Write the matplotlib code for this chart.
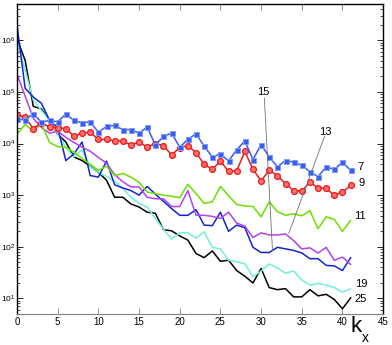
import numpy as np
import matplotlib
matplotlib.use("Agg")
import matplotlib.pyplot as plt

plt.rcParams['font.family'] = ['Liberation Sans', 'DejaVu Sans']
plt.rcParams['mathtext.fontset'] = 'custom'
plt.rcParams['mathtext.rm'] = 'Liberation Sans'
plt.rcParams['mathtext.default'] = 'regular'

# kx = 0..41, values stored as log10 of amplitude
kx = np.arange(42)

log_k7 = [4.47, 4.46, 4.58, 4.41, 4.45, 4.42, 4.57, 4.45, 4.40, 4.42,
          4.22, 4.33, 4.35, 4.27, 4.27, 4.20, 4.32, 3.97, 4.14, 4.20,
          3.93, 4.08, 4.19, 3.95, 3.74, 3.80, 3.66, 3.88, 4.05, 3.69,
          3.98, 3.74, 3.55, 3.67, 3.64, 3.58, 3.45, 3.36, 3.55, 3.50,
          3.64, 3.48]
log_k9 = [4.55, 4.51, 4.29, 4.40, 4.32, 4.31, 4.29, 4.14, 4.20, 4.22,
          4.08, 4.08, 4.05, 4.05, 3.97, 4.03, 3.93, 4.00, 3.96, 3.78,
          3.92, 3.96, 3.82, 3.60, 3.50, 3.66, 3.46, 3.47, 3.85, 3.50,
          3.28, 3.48, 3.38, 3.22, 3.09, 3.08, 3.25, 3.14, 3.13, 3.00,
          3.06, 3.19]
log_k11 = [4.18, 4.37, 4.24, 4.39, 4.02, 3.94, 3.93, 3.83, 3.71, 3.60,
           3.48, 3.56, 3.38, 3.42, 3.35, 3.25, 3.06, 3.03, 3.00, 2.98,
           2.95, 3.21, 3.03, 2.84, 2.87, 3.17, 2.99, 2.82, 2.79, 2.78,
           2.58, 2.87, 2.68, 2.61, 2.64, 2.60, 2.70, 2.35, 2.58, 2.53,
           2.30, 2.51]
log_k13 = [5.34, 4.92, 4.49, 4.31, 4.20, 4.24, 4.12, 4.02, 3.93, 3.85,
           3.73, 3.62, 3.40, 3.26, 3.16, 3.16, 2.96, 2.93, 2.93, 2.78,
           2.78, 3.09, 2.61, 2.61, 2.59, 2.55, 2.67, 2.46, 2.40, 2.18,
           2.27, 2.23, 2.23, 2.25, 2.12, 1.96, 1.98, 1.88, 1.99, 1.74,
           1.80, 1.66]
log_k15 = [6.29, 5.07, 4.90, 4.78, 4.45, 4.31, 3.67, 3.80, 4.03, 3.38,
           3.35, 3.66, 3.20, 3.14, 3.09, 3.00, 3.17, 3.02, 2.88, 2.74,
           2.61, 2.61, 2.72, 2.42, 2.41, 2.67, 2.30, 2.42, 2.37, 1.99,
           1.89, 1.89, 1.99, 1.96, 1.93, 1.88, 1.77, 1.77, 1.64, 1.63,
           1.54, 1.79]
log_k19 = [5.97, 5.42, 4.84, 4.64, 4.45, 4.19, 3.93, 3.74, 3.88, 3.55,
           3.44, 3.36, 3.27, 3.13, 2.96, 2.84, 2.77, 2.55, 2.34, 2.15,
           2.27, 2.27, 2.17, 2.29, 1.99, 1.96, 1.74, 1.71, 1.67, 1.42,
           1.53, 1.67, 1.59, 1.49, 1.53, 1.36, 1.26, 1.29, 1.26, 1.21,
           1.12, 1.19]
log_k25 = [6.03, 5.61, 4.72, 4.67, 4.45, 4.18, 4.03, 3.74, 3.67, 3.56,
           3.44, 3.29, 2.96, 2.96, 2.83, 2.77, 2.67, 2.65, 2.33, 2.31,
           2.21, 2.13, 1.87, 1.79, 1.92, 1.72, 1.74, 1.54, 1.43, 1.30,
           1.58, 1.21, 1.17, 1.19, 1.03, 1.03, 1.17, 1.05, 1.08, 0.98,
           0.80, 1.01]

labels = ['7', '9', '11', '13', '15', '19', '25']
label_pos = [(42.2, 3.54), (42.3, 3.23), (42.1, 2.59), (37.9, 4.22),
             (30.3, 4.99), (42.3, 1.27), (42.2, 0.98)]

y_ticks = [1e1, 1e2, 1e3, 1e4, 1e5, 1e6]
y_ticklabels = ['$10^{%d}$' % n for n in range(1, 7)]

fig = plt.figure(figsize=(3.92, 3.45), dpi=100)
ax = fig.add_axes([0.0434, 0.0899, 0.934, 0.898])

lw = 1.1
ax.plot(kx, 10**np.array(log_k25), color='black', lw=lw)
ax.plot(kx, 10**np.array(log_k19), color='#6ff2d8', lw=lw)
ax.plot(kx, 10**np.array(log_k15), color='#1424d4', lw=lw)
ax.plot(kx, 10**np.array(log_k13), color='#b242f2', lw=lw)
ax.plot(kx, 10**np.array(log_k11), color='#6ce000', lw=lw)
ax.plot(kx, 10**np.array(log_k9), color='#ee1a1a', lw=lw, marker='o', ms=4.2,
        mfc='#ff7070', mec='#ee1a1a', mew=0.9)
ax.plot(kx, 10**np.array(log_k7), color='#3a5cf0', lw=lw, marker='s', ms=3.6,
        mfc='#3a5cf0', mec='#7f9bff', mew=0.7)

# leader lines for labels 15 and 13
ax.plot([30.4, 31.4], [10**4.88, 10**1.93], color='#707070', lw=0.6)
ax.plot([37.8, 33.4], [10**4.14, 10**2.26], color='#707070', lw=0.6)

for lab, (x, y) in zip(labels, label_pos):
    ax.text(x, 10**y, lab, fontsize=8, ha='center', va='center')

ax.set_yscale('log')
ax.set_xlim(0, 45)
ax.set_ylim(5, 5e6)
ax.set_xticks(np.arange(0, 46, 5))
ax.set_yticks(y_ticks)
ax.set_yticklabels(y_ticklabels)
ax.tick_params(axis='both', which='both', direction='in',
               top=True, right=True)
ax.tick_params(axis='x', labelsize=7, pad=2)
ax.tick_params(axis='y', labelsize=6, pad=1)
ax.tick_params(axis='both', which='major', length=4, width=0.6)
ax.tick_params(axis='y', which='minor', length=2, width=0.5)
ax.tick_params(axis='x', colors='#808080', labelcolor='black')

for side in ['left', 'top', 'right']:
    ax.spines[side].set_linewidth(1.0)
ax.spines['bottom'].set_color('#808080')
ax.spines['bottom'].set_linewidth(0.8)

fig.text(356.5 / 392, 1 - 327 / 345, 'k', fontsize=16, ha='center', va='center')
fig.text(365.5 / 392, 1 - 338 / 345, 'x', fontsize=10, ha='center', va='center')

fig.savefig('out.png', dpi=100)
